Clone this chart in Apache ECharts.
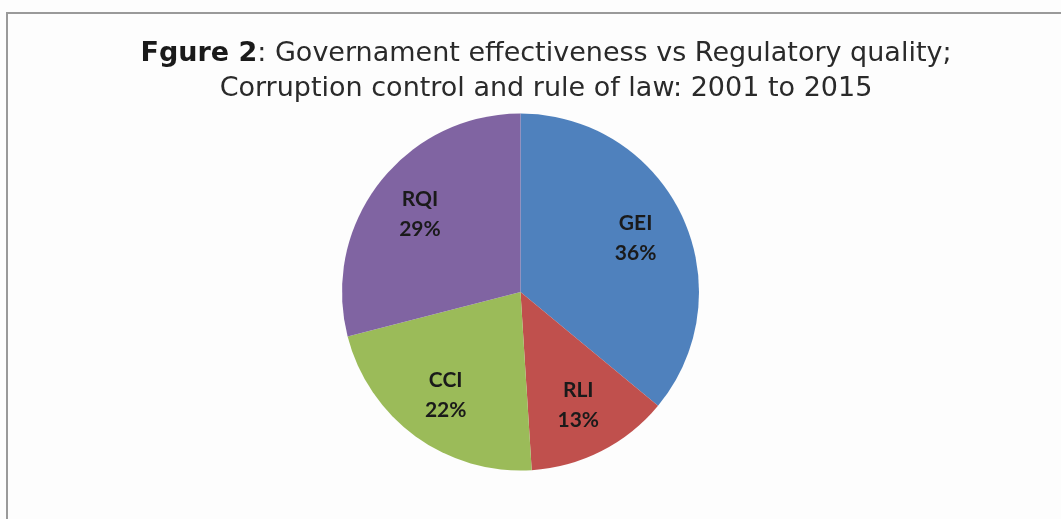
<!DOCTYPE html>
<html>
<head>
<meta charset="utf-8">
<script src="https://cdn.jsdelivr.net/npm/echarts@6/dist/echarts.min.js"></script>
<style>
html,body{margin:0;padding:0;background:#fdfdfd;}
#chart{width:1061px;height:519px;}
</style>
</head>
<body>
<div id="chart"></div>
<script>
const categories = ['GEI', 'RLI', 'CCI', 'RQI'];
const shares = [36, 13, 22, 29];
const colors = ['#4F81BD', '#C0504D', '#9BBB59', '#8064A2'];
const titleBold = 'Fgure 2';
const titleLine1 = ': Governament effectiveness vs Regulatory quality;';
const titleLine2 = 'Corruption control and rule of law: 2001 to 2015';

const data = categories.map((c, i) => ({ name: c, value: shares[i], itemStyle: { color: colors[i] } }));
const labelData = categories.map((c, i) => ({ name: c, value: shares[i] }));

const chart = echarts.init(document.getElementById('chart'));
chart.setOption({
  backgroundColor: '#fdfdfd',
  animation: false,
  graphic: [{
    type: 'rect', silent: true,
    shape: { x: 7, y: 13, width: 1200, height: 700 },
    style: { fill: 'none', stroke: '#9a9a9a', lineWidth: 2 }
  }],
  title: {
    text: '{b|' + titleBold + '}' + titleLine1 + '\n' + titleLine2,
    left: 541, top: 31, textAlign: 'center',
    textStyle: {
      fontFamily: 'DejaVu Sans', fontSize: 27, fontWeight: 'normal', color: '#2a2a2a', lineHeight: 35,
      rich: { b: { fontFamily: 'DejaVu Sans', fontSize: 27, fontWeight: 'bold', color: '#1a1a1a', lineHeight: 35 } }
    }
  },
  series: [{
    type: 'pie',
    center: [520.5, 292],
    radius: [0, 178.5],
    startAngle: 90,
    clockwise: true,
    label: { show: false },
    labelLine: { show: false },
    itemStyle: { borderWidth: 0 },
    silent: true,
    data: data
  }, {
    type: 'pie',
    center: [520.5, 292],
    radius: [70, 178.5],
    startAngle: 90,
    clockwise: true,
    silent: true,
    itemStyle: { color: 'rgba(0,0,0,0)', borderWidth: 0 },
    label: {
      show: true, position: 'inside',
      formatter: '{b}\n{c}%',
      fontFamily: 'Lato', fontWeight: 'bold', fontSize: 21, lineHeight: 30, color: '#1a1a1a'
    },
    labelLine: { show: false },
    data: labelData
  }]
});
</script>
</body>
</html>
